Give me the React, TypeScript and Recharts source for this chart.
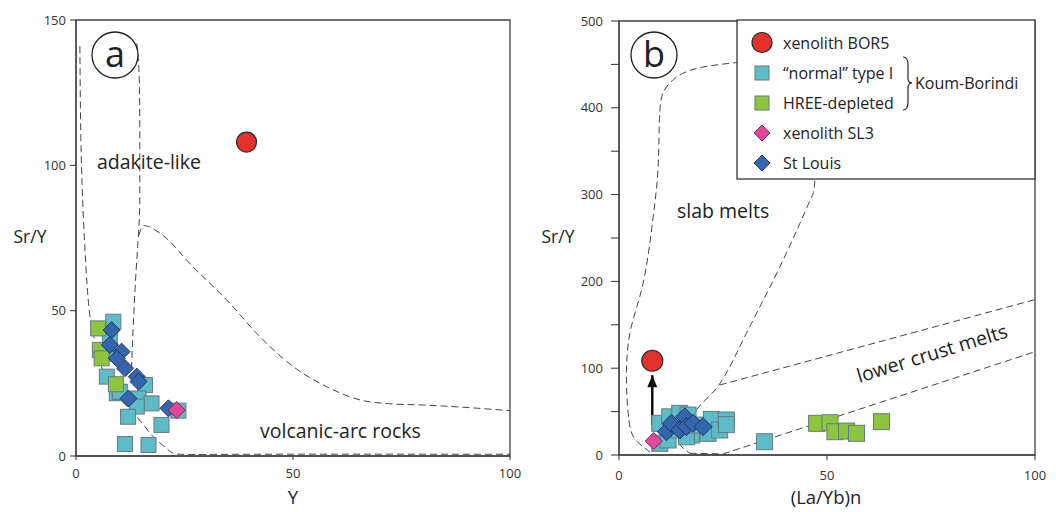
import React from 'react';
import { ComposedChart, Scatter, Line, XAxis, YAxis, ReferenceArea } from 'recharts';

// ---- panel a: Sr/Y vs Y ----
const aBor5 = [{ x: 39.3, y: 108 }];
const aNormal = [
  { x: 8.6, y: 46.2 }, { x: 7.8, y: 40.5 }, { x: 7.4, y: 35.3 }, { x: 7.1, y: 27.3 },
  { x: 9.4, y: 21.6 }, { x: 10.1, y: 22.1 }, { x: 15.9, y: 24.4 }, { x: 14.4, y: 19.8 },
  { x: 17.4, y: 18.1 }, { x: 14, y: 17 }, { x: 12, y: 13.5 }, { x: 19.7, y: 10.7 },
  { x: 11.3, y: 4.1 }, { x: 16.7, y: 3.8 }, { x: 23.6, y: 15.6 },
];
const aHree = [
  { x: 5.1, y: 43.9 }, { x: 5.5, y: 36.5 }, { x: 5.9, y: 33.6 }, { x: 9.2, y: 24.7 },
];
const aSl3 = [{ x: 23.2, y: 15.8 }];
const aStLouis = [
  { x: 8.2, y: 43.3 }, { x: 7.8, y: 38.2 }, { x: 10.5, y: 35.9 }, { x: 9.4, y: 33.6 },
  { x: 11.3, y: 30.2 }, { x: 14, y: 27.3 }, { x: 14.4, y: 25.6 }, { x: 12.1, y: 19.8 },
  { x: 21.3, y: 16.4 },
];
const aOuterCurve = [
  { x: 0.9, y: 141 }, { x: 1.1, y: 111 }, { x: 1.7, y: 82 }, { x: 2.8, y: 54 },
  { x: 4, y: 42 }, { x: 5.9, y: 30.7 }, { x: 9, y: 21.6 }, { x: 14, y: 13.5 },
  { x: 17.8, y: 6.6 }, { x: 20.9, y: 2.6 }, { x: 23.2, y: 0.7 }, { x: 40, y: 0.6 },
  { x: 100, y: 0.6 },
];
const aInnerCurve = [
  { x: 14, y: 142 }, { x: 14.6, y: 128 }, { x: 14.7, y: 100 }, { x: 14.6, y: 82 },
  { x: 13.9, y: 65 }, { x: 13.2, y: 45 }, { x: 12.7, y: 27 },
];
const aArcCurve = [
  { x: 14.5, y: 76 }, { x: 15.5, y: 79.3 }, { x: 19.4, y: 76.6 }, { x: 27, y: 65 },
  { x: 34.7, y: 53.7 }, { x: 42.4, y: 41 }, { x: 50.1, y: 30.7 }, { x: 57.8, y: 23.8 },
  { x: 65.4, y: 19.3 }, { x: 72, y: 18 }, { x: 80.8, y: 17.5 }, { x: 100, y: 15.6 },
];
const aXTicks = [0, 50, 100];
const aYTicks = [0, 50, 100, 150];

// ---- panel b: Sr/Y vs (La/Yb)n ----
const bBor5 = [{ x: 8, y: 108.6 }];
const bArrow = [{ x: 8, y: 35 }, { x: 8, y: 92 }];
const bNormal = [
  { x: 9.8, y: 36.5 }, { x: 9.8, y: 13.5 }, { x: 11.8, y: 17.3 }, { x: 12.2, y: 44 },
  { x: 14.6, y: 48 }, { x: 16.6, y: 46 }, { x: 17.4, y: 23 }, { x: 14.6, y: 28.8 },
  { x: 16.2, y: 21 }, { x: 19, y: 34.5 }, { x: 21.4, y: 25 }, { x: 22.2, y: 41 },
  { x: 24.2, y: 28.8 }, { x: 25.8, y: 40.3 }, { x: 25.8, y: 35 }, { x: 35, y: 15.3 },
];
const bHree = [
  { x: 47.5, y: 36.5 }, { x: 50.7, y: 37.2 }, { x: 51.9, y: 26.8 }, { x: 54.7, y: 27.6 },
  { x: 57.1, y: 25 }, { x: 63.1, y: 38.4 },
];
const bSl3 = [{ x: 8.35, y: 16.1 }];
const bStLouis = [
  { x: 11.4, y: 26.8 }, { x: 12.6, y: 36.5 }, { x: 14.6, y: 28.8 }, { x: 15.8, y: 44 },
  { x: 16.2, y: 32.6 }, { x: 17.8, y: 36.5 }, { x: 20.2, y: 32.6 },
];
const bSlabCurve = [
  { x: 7.5, y: 3 }, { x: 5.8, y: 9.6 }, { x: 3.6, y: 20 }, { x: 2.4, y: 40 },
  { x: 1.8, y: 82 }, { x: 2.6, y: 140 }, { x: 5.8, y: 198 }, { x: 8.2, y: 274 },
  { x: 9.4, y: 332 }, { x: 9.8, y: 395 }, { x: 11.4, y: 424 }, { x: 17, y: 443 },
  { x: 28, y: 452 }, { x: 40, y: 457 }, { x: 47, y: 445 }, { x: 48.5, y: 390 },
  { x: 47.1, y: 317 }, { x: 45.9, y: 293 }, { x: 38.7, y: 217 }, { x: 30.6, y: 140 },
  { x: 24.2, y: 82 }, { x: 18.6, y: 52 }, { x: 15.5, y: 22 }, { x: 14.8, y: 11 },
  { x: 17, y: 2 },
];
const bCrustLow = [{ x: 17, y: 2 }, { x: 25, y: 1.2 }, { x: 100, y: 119 }];
const bCrustHigh = [{ x: 24.2, y: 80.6 }, { x: 100, y: 179 }];
const bXTicks = [0, 50, 100];
const bYTicks = [0, 50, 100, 150, 200, 250, 300, 350, 400, 450, 500];

const legendLabels = ['xenolith BOR5', '\u201cnormal\u201d type I', 'HREE-depleted', 'xenolith SL3', 'St Louis'];

const FONT = '"Open Sans", sans-serif';
const CYAN = '#5cbcc8';
const GREEN = '#8cc63e';
const BLUE = '#3566ad';
const PINK = '#e2479b';
const RED = '#e5312b';

const square = (fill: string, size: number) => (p: any) => (
  <rect x={p.cx - size / 2} y={p.cy - size / 2} width={size} height={size}
    fill={fill} stroke="#667a80" strokeWidth={1} />
);
const diamond = (fill: string, stroke: string, h: number) => (p: any) => (
  <polygon points={`${p.cx},${p.cy - h} ${p.cx + h},${p.cy} ${p.cx},${p.cy + h} ${p.cx - h},${p.cy}`}
    fill={fill} stroke={stroke} strokeWidth={1} />
);
const dot = (r: number) => (p: any) => (
  <circle cx={p.cx} cy={p.cy} r={r} fill={RED} stroke="#2a2a2a" strokeWidth={1.2} />
);
const arrowHead = (p: any) =>
  p.index === 1 ? (
    <polygon key="head" points={`${p.cx},${p.cy} ${p.cx - 5},${p.cy + 12} ${p.cx + 5},${p.cy + 12}`} fill="#111" />
  ) : <g key={`n${p.index}`} />;

const tickStyle = { fontSize: 13, fill: '#333', fontFamily: FONT };
const dashed = { stroke: '#444', strokeWidth: 1, strokeDasharray: '7 4', dot: false, isAnimationActive: false, activeDot: false } as const;

function PanelA() {
  return (
    <ComposedChart width={530} height={512} margin={{ top: 20, right: 20, bottom: 0, left: 0 }}>
      <XAxis type="number" dataKey="x" domain={[0, 100]} ticks={aXTicks} height={56}
        tickSize={4} tickMargin={9} tick={tickStyle} stroke="#333" />
      <YAxis type="number" dataKey="y" domain={[0, 150]} ticks={aYTicks} width={76}
        tickSize={6} tickMargin={4} tick={tickStyle} stroke="#333" />
      <ReferenceArea x1={0} x2={100} y1={0} y2={150} fill="none" stroke="#444" strokeWidth={1.3} />
      <Line data={aOuterCurve} dataKey="y" type="natural" {...dashed} />
      <Line data={aInnerCurve} dataKey="y" type="natural" {...dashed} />
      <Line data={aArcCurve} dataKey="y" type="monotone" {...dashed} />
      <Scatter data={aNormal} shape={square(CYAN, 15)} isAnimationActive={false} />
      <Scatter data={aHree} shape={square(GREEN, 15)} isAnimationActive={false} />
      <Scatter data={aStLouis} shape={diamond(BLUE, '#1d3560', 8.5)} isAnimationActive={false} />
      <Scatter data={aSl3} shape={diamond(PINK, '#7d2a5a', 8.5)} isAnimationActive={false} />
      <Scatter data={aBor5} shape={dot(10)} isAnimationActive={false} />
    </ComposedChart>
  );
}

function PanelB() {
  return (
    <ComposedChart width={511} height={512} margin={{ top: 21, right: 21, bottom: 0, left: 0 }}>
      <XAxis type="number" dataKey="x" domain={[0, 100]} ticks={bXTicks} height={57}
        tickSize={5} tickMargin={11} tick={tickStyle} stroke="#333" />
      <YAxis type="number" dataKey="y" domain={[0, 500]} ticks={bYTicks} width={74}
        tickSize={8} tickMargin={8} tick={tickStyle} stroke="#333"
        tickFormatter={(v: number) => (v % 100 === 0 ? String(v) : '')} />
      <ReferenceArea x1={0} x2={100} y1={0} y2={500} fill="none" stroke="#444" strokeWidth={1.3} />
      <Line data={bSlabCurve} dataKey="y" type="natural" {...dashed} />
      <Line data={bCrustLow} dataKey="y" type="linear" {...dashed} />
      <Line data={bCrustHigh} dataKey="y" type="linear" {...dashed} />
      <Scatter data={bNormal} shape={square(CYAN, 16)} isAnimationActive={false} />
      <Scatter data={bHree} shape={square(GREEN, 16)} isAnimationActive={false} />
      <Scatter data={bStLouis} shape={diamond(BLUE, '#1d3560', 9)} isAnimationActive={false} />
      <Scatter data={bSl3} shape={diamond(PINK, '#7d2a5a', 8.5)} isAnimationActive={false} />
      <Line data={bArrow} dataKey="y" type="linear" stroke="#111" strokeWidth={2.5}
        dot={arrowHead} activeDot={false} isAnimationActive={false} />
      <Scatter data={bBor5} shape={dot(10.5)} isAnimationActive={false} />
    </ComposedChart>
  );
}

function Overlay() {
  const t = { fontFamily: FONT, fill: '#222' };
  const rows = [42.5, 73, 103, 133, 163];
  return (
    <svg width={1056} height={512} style={{ position: 'absolute', left: 0, top: 0, pointerEvents: 'none' }}>
      <circle cx={115} cy={55} r={23} fill="#fff" stroke="#222" strokeWidth={1.3} />
      <text x={115} y={67} textAnchor="middle" fontSize={36} {...t}>a</text>
      <circle cx={654} cy={55} r={23} fill="#fff" stroke="#222" strokeWidth={1.3} />
      <text x={654} y={67} textAnchor="middle" fontSize={36} {...t}>b</text>

      <text x={97} y={169} fontSize={19.5} {...t}>adakite-like</text>
      <text x={260} y={438} fontSize={19.5} {...t}>volcanic-arc rocks</text>
      <text x={677} y={218} fontSize={19.5} {...t}>slab melts</text>
      <text x={934} y={360} fontSize={19.5} textAnchor="middle" transform="rotate(-17 934 360)" {...t}>lower crust melts</text>

      <text x={30} y={243} fontSize={17.5} textAnchor="middle" {...t}>Sr/Y</text>
      <text x={293} y={504} fontSize={18.5} textAnchor="middle" {...t}>Y</text>
      <text x={826} y={504} fontSize={18.5} textAnchor="middle" {...t}>(La/Yb)n</text>
      <text x={558} y={243} fontSize={17.5} textAnchor="middle" {...t}>Sr/Y</text>

      <rect x={737} y={20} width={298} height={159} fill="#fff" stroke="#333" strokeWidth={1.3} />
      <circle cx={762} cy={rows[0]} r={10} fill={RED} stroke="#2a2a2a" strokeWidth={1.2} />
      <rect x={755} y={rows[1] - 7} width={14} height={14} fill={CYAN} stroke="#667a80" />
      <rect x={755} y={rows[2] - 7} width={14} height={14} fill={GREEN} stroke="#667a80" />
      <polygon points={`762,${rows[3] - 8} 770,${rows[3]} 762,${rows[3] + 8} 754,${rows[3]}`} fill={PINK} stroke="#7d2a5a" />
      <polygon points={`762,${rows[4] - 8} 770,${rows[4]} 762,${rows[4] + 8} 754,${rows[4]}`} fill={BLUE} stroke="#1d3560" />
      {legendLabels.map((s, i) => (
        <text key={s} x={783} y={rows[i] + 6} fontSize={16} {...t}>{s}</text>
      ))}
      <path d="M903,57 Q908,57 908,65 L908,78 Q908,83 912,83 Q908,83 908,88 L908,102 Q908,110 903,110"
        fill="none" stroke="#222" strokeWidth={1.2} />
      <text x={915} y={89} fontSize={16} {...t}>Koum-Borindi</text>
    </svg>
  );
}

export default function App() {
  return (
    <div style={{ position: 'absolute', left: 0, top: 0, width: 1056, height: 512, background: '#fff' }}>
      <div style={{ position: 'absolute', left: 0, top: 0 }}>
        <PanelA />
      </div>
      <div style={{ position: 'absolute', left: 545, top: 0 }}>
        <PanelB />
      </div>
      <Overlay />
    </div>
  );
}
